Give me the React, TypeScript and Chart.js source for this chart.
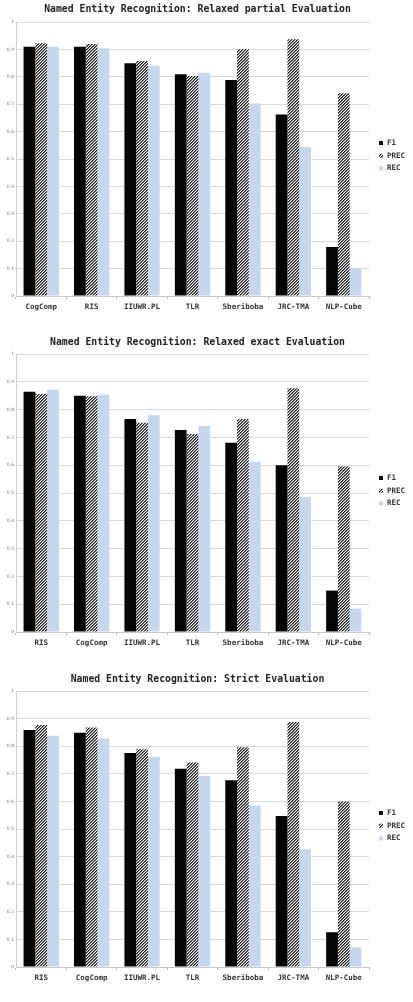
import React, { useEffect, useRef } from "react";
import { Chart, registerables } from "chart.js";

Chart.register(...registerables);

// Relaxed partial evaluation
const partialSystems = ["CogComp", "RIS", "IIUWR.PL", "TLR", "Sberiboba", "JRC-TMA", "NLP-Cube"];
const partialF1 = [0.91, 0.91, 0.849, 0.809, 0.788, 0.662, 0.179];
const partialPrec = [0.922, 0.92, 0.858, 0.803, 0.901, 0.937, 0.74];
const partialRec = [0.91, 0.904, 0.84, 0.815, 0.703, 0.544, 0.099];

// Relaxed exact evaluation
const exactSystems = ["RIS", "CogComp", "IIUWR.PL", "TLR", "Sberiboba", "JRC-TMA", "NLP-Cube"];
const exactF1 = [0.864, 0.85, 0.766, 0.727, 0.681, 0.6, 0.149];
const exactPrec = [0.856, 0.848, 0.753, 0.712, 0.766, 0.877, 0.595];
const exactRec = [0.871, 0.853, 0.78, 0.741, 0.612, 0.486, 0.084];

// Strict evaluation
const strictSystems = ["RIS", "CogComp", "IIUWR.PL", "TLR", "Sberiboba", "JRC-TMA", "NLP-Cube"];
const strictF1 = [0.859, 0.849, 0.775, 0.718, 0.677, 0.547, 0.126];
const strictPrec = [0.877, 0.868, 0.789, 0.741, 0.796, 0.888, 0.6];
const strictRec = [0.838, 0.828, 0.761, 0.692, 0.585, 0.427, 0.071];

const seriesNames = ["F1", "PREC", "REC"];

const WIDTH = 413;
const PLOT_LEFT = 16;
const PLOT_RIGHT = 369;
const X_AXIS_H = 20;
const MONO = "'DejaVu Sans Mono', 'Liberation Mono', monospace";

// Diagonal "////" hatch used for the precision bars
function makeHatch(ctx: CanvasRenderingContext2D): CanvasPattern | string {
  const n = 3;
  const tile = document.createElement("canvas");
  tile.width = n;
  tile.height = n;
  const tctx = tile.getContext("2d");
  if (!tctx) return "#777";
  const img = tctx.createImageData(n, n);
  for (let y = 0; y < n; y++) {
    for (let x = 0; x < n; x++) {
      const k = (x + y) % n;
      const v = k === 0 ? 30 : k === 1 ? 120 : 250;
      const i = (y * n + x) * 4;
      img.data[i] = v;
      img.data[i + 1] = v;
      img.data[i + 2] = v;
      img.data[i + 3] = 255;
    }
  }
  tctx.putImageData(img, 0, 0);
  return ctx.createPattern(tile, "repeat") || "#777";
}

type PanelProps = {
  top: number;
  height: number;
  title: string;
  titleY: number;
  plotTop: number;
  zeroY: number;
  legendY: number;
  labels: string[];
  f1: number[];
  prec: number[];
  rec: number[];
};

function Panel(p: PanelProps) {
  const ref = useRef<HTMLCanvasElement>(null);

  useEffect(() => {
    const canvas = ref.current;
    if (!canvas) return;
    const ctx = canvas.getContext("2d");
    if (!ctx) return;
    const hatch = makeHatch(ctx);
    const colors: any[] = ["#060606", hatch, "#c4d7ee"];

    const titlePlugin = {
      id: "panelTitle",
      afterDraw(chart: any) {
        const c = chart.ctx;
        const area = chart.chartArea;
        c.save();
        c.font = `bold 9.8px ${MONO}`;
        c.fillStyle = "#222";
        c.textAlign = "center";
        c.textBaseline = "middle";
        c.fillText(p.title, (area.left + area.right) / 2 + 5, p.titleY);
        c.restore();
      },
    };

    const legendPlugin = {
      id: "sideLegend",
      afterDraw(chart: any) {
        const c = chart.ctx;
        c.save();
        c.font = `bold 7.5px ${MONO}`;
        c.textBaseline = "middle";
        c.textAlign = "left";
        chart.data.datasets.forEach((ds: any, i: number) => {
          const y = p.legendY + i * 12.7;
          c.fillStyle = ds.backgroundColor;
          c.fillRect(379, y - 2, 4, 4);
          c.fillStyle = "#333";
          c.fillText(ds.label, 387, y);
        });
        c.restore();
      },
    };

    const chart = new Chart(ctx, {
      type: "bar",
      data: {
        labels: p.labels,
        datasets: [p.f1, p.prec, p.rec].map((d, i) => ({
          label: seriesNames[i],
          data: d,
          backgroundColor: colors[i],
          borderWidth: 0,
          barPercentage: 1,
          categoryPercentage: 0.7,
        })),
      },
      options: {
        responsive: false,
        animation: false,
        devicePixelRatio: 1,
        layout: {
          padding: {
            top: p.plotTop,
            left: 0,
            right: WIDTH - PLOT_RIGHT,
            bottom: p.height - p.zeroY - X_AXIS_H,
          },
        },
        plugins: {
          legend: { display: false },
          title: { display: false },
          tooltip: { enabled: false },
        },
        scales: {
          x: {
            grid: {
              drawOnChartArea: false,
              drawTicks: true,
              tickLength: 3,
              color: "#bdbdbd",
              offset: true,
            },
            border: { color: "#c8c8c8" },
            ticks: {
              font: { family: MONO, size: 7.5, weight: "bold" },
              color: "#333",
              padding: 4,
              maxRotation: 0,
              autoSkip: false,
            },
            afterFit: (s: any) => {
              s.height = X_AXIS_H;
            },
          },
          y: {
            min: 0,
            max: 1,
            ticks: {
              stepSize: 0.1,
              font: { family: "'DejaVu Sans'", size: 4.5 },
              color: "#777",
              padding: 2,
              callback: (v: any) => String(Math.round(Number(v) * 10) / 10),
            },
            grid: { color: "#d9d9d9", drawTicks: false },
            border: { color: "#d0d0d0" },
            afterFit: (s: any) => {
              s.width = PLOT_LEFT;
            },
          },
        },
      } as any,
      plugins: [titlePlugin, legendPlugin],
    });
    return () => chart.destroy();
  }, []);

  return (
    <canvas
      ref={ref}
      width={WIDTH}
      height={p.height}
      style={{ position: "absolute", left: 0, top: p.top, width: WIDTH, height: p.height }}
    />
  );
}

export default function App() {
  return (
    <div style={{ position: "absolute", left: 0, top: 0, width: WIDTH, height: 1002, background: "#fff" }}>
      <Panel
        top={0}
        height={330}
        title="Named Entity Recognition: Relaxed partial Evaluation"
        titleY={9}
        plotTop={22}
        zeroY={296}
        legendY={143}
        labels={partialSystems}
        f1={partialF1}
        prec={partialPrec}
        rec={partialRec}
      />
      <Panel
        top={330}
        height={330}
        title="Named Entity Recognition: Relaxed exact Evaluation"
        titleY={12}
        plotTop={24}
        zeroY={302}
        legendY={148}
        labels={exactSystems}
        f1={exactF1}
        prec={exactPrec}
        rec={exactRec}
      />
      <Panel
        top={660}
        height={342}
        title="Named Entity Recognition: Strict Evaluation"
        titleY={19}
        plotTop={31}
        zeroY={307}
        legendY={153}
        labels={strictSystems}
        f1={strictF1}
        prec={strictPrec}
        rec={strictRec}
      />
    </div>
  );
}
